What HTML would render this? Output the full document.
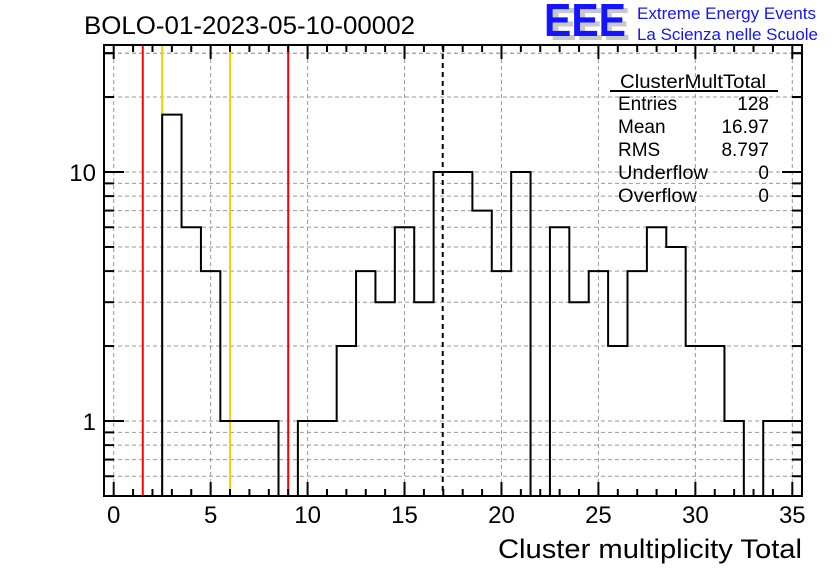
<!DOCTYPE html>
<html><head><meta charset="utf-8"><style>
body{margin:0;background:#fff;width:836px;height:572px;overflow:hidden;font-family:"Liberation Sans",sans-serif}
</style></head><body>
<svg id="c" width="836" height="572" xmlns="http://www.w3.org/2000/svg" font-family="Liberation Sans, sans-serif">
<text x="84" y="34" font-size="25" textLength="331" lengthAdjust="spacingAndGlyphs">BOLO-01-2023-05-10-00002</text>
<g>
<text x="550" y="40" font-size="46" font-weight="bold" fill="#c8c8c8" textLength="80" lengthAdjust="spacingAndGlyphs">EEE</text>
<text x="544" y="36" font-size="46" font-weight="bold" fill="#1414ff" textLength="82" lengthAdjust="spacingAndGlyphs">EEE</text>
<text x="637" y="19" font-size="17" fill="#1414ff" textLength="179" lengthAdjust="spacingAndGlyphs">Extreme Energy Events</text>
<text x="637" y="40" font-size="17" fill="#1414ff" textLength="181" lengthAdjust="spacingAndGlyphs">La Scienza nelle Scuole</text>
</g>
<g id="grid"></g><g id="lines"></g><g id="hist"></g><g id="axes"></g>
<g font-size="19">
<text x="620" y="88" textLength="146" lengthAdjust="spacingAndGlyphs">ClusterMultTotal</text>
<line x1="610" y1="91" x2="778" y2="91" stroke="#000" stroke-width="2"/>
<text x="618" y="110">Entries</text><text x="769" y="110" text-anchor="end">128</text>
<text x="618" y="133">Mean</text><text x="769" y="133" text-anchor="end">16.97</text>
<text x="618" y="156">RMS</text><text x="769" y="156" text-anchor="end">8.797</text>
<text x="618" y="179" textLength="90" lengthAdjust="spacingAndGlyphs">Underflow</text><text x="769" y="179" text-anchor="end">0</text>
<text x="618" y="202" textLength="79" lengthAdjust="spacingAndGlyphs">Overflow</text><text x="769" y="202" text-anchor="end">0</text>
</g>
<text x="498" y="558" font-size="27" textLength="304" lengthAdjust="spacingAndGlyphs">Cluster multiplicity Total</text>
</svg>
<script>
const counts=[0,0,0,17,6,4,1,1,1,0,1,1,2,4,3,6,3,10,10,7,4,10,0,6,3,4,2,4,6,5,2,2,1,0,1,1];
const binCenters=[0,1,2,3,4,5,6,7,8,9,10,11,12,13,14,15,16,17,18,19,20,21,22,23,24,25,26,27,28,29,30,31,32,33,34,35];
const xTicks=[0,5,10,15,20,25,30,35];
const yTicks=[1,10];
const cutLinesRed=[1.5,9];
const cutLinesYellow=[2.5,6];
const meanValue=16.97;
const L=104,R=802,T=45,B=496,XMIN=-0.5,XMAX=35.5;
const sx=v=>L+(v-XMIN)/(XMAX-XMIN)*(R-L);
const Y1=421,DEC=249;
const sy=v=>v<=0?B:Math.min(B,Math.max(T,Y1-Math.log10(v)*DEC));
const NS="http://www.w3.org/2000/svg";
function mk(p,t,a){const e=document.createElementNS(NS,t);for(const k in a)e.setAttribute(k,a[k]);p.appendChild(e);return e;}
const g=document.getElementById('grid'),ax=document.getElementById('axes'),hl=document.getElementById('hist'),ln=document.getElementById('lines');
const ylog=[];for(let d of [0.1,1,10]){for(let m=1;m<10;m++){const v=m*d;const y=sy(v);if(v>0.5&&y>T&&y<B)ylog.push(v);}}
ylog.push(20,30);
ylog.forEach(v=>{const y=sy(v);
const l=mk(g,'line',{x1:L,x2:R,y1:y,y2:y,stroke:'#999','stroke-dasharray':'4,3','stroke-width':1});

const big=(v===1||v===10);const len=big?20:10;
mk(ax,'line',{x1:L,x2:L+len,y1:y,y2:y,stroke:'#000','stroke-width':2});
mk(ax,'line',{x1:R,x2:R-len,y1:y,y2:y,stroke:'#000','stroke-width':2});
});
xTicks.forEach(v=>{const x=sx(v);
const l=mk(g,'line',{x1:x,x2:x,y1:T,y2:B,stroke:'#999','stroke-dasharray':'4,3','stroke-width':1});

const t=mk(ax,'text',{x:x,y:523,'font-size':24,'text-anchor':'middle'});t.textContent=v;

});
for(let v=0;v<=35;v++){const x=sx(v);const len=v%5===0?14:7;
mk(ax,'line',{x1:x,x2:x,y1:B,y2:B-len,stroke:'#000','stroke-width':2});
mk(ax,'line',{x1:x,x2:x,y1:T,y2:T+len,stroke:'#000','stroke-width':2});}
yTicks.forEach(v=>{const t=mk(ax,'text',{x:96,y:sy(v)+9,'font-size':24,'text-anchor':'end'});t.textContent=v;
});
const f=mk(ax,'rect',{x:L,y:T,width:R-L,height:B-T,fill:'none',stroke:'#000','stroke-width':2});

cutLinesRed.forEach(v=>{const l=mk(ln,'line',{x1:sx(v),x2:sx(v),y1:T,y2:B,stroke:'#f00','stroke-width':2});
});
cutLinesYellow.forEach(v=>{const l=mk(ln,'line',{x1:sx(v),x2:sx(v),y1:T,y2:B,stroke:'#fc0','stroke-width':2});
});
const ml=mk(ln,'line',{x1:sx(meanValue),x2:sx(meanValue),y1:T,y2:B,stroke:'#000','stroke-width':2,'stroke-dasharray':'5,4'});

let d='';
binCenters.forEach((c,i)=>{const x0=sx(c-0.5),x1=sx(c+0.5),y=sy(counts[i]);
d+=(i===0?`M${x0},${B}`:'')+`L${x0},${y}L${x1},${y}`;});
d+=`L${sx(35.5)},${B}`;
const p=mk(hl,'path',{d:d,fill:'none',stroke:'#000','stroke-width':2});

</script>
</body></html>
